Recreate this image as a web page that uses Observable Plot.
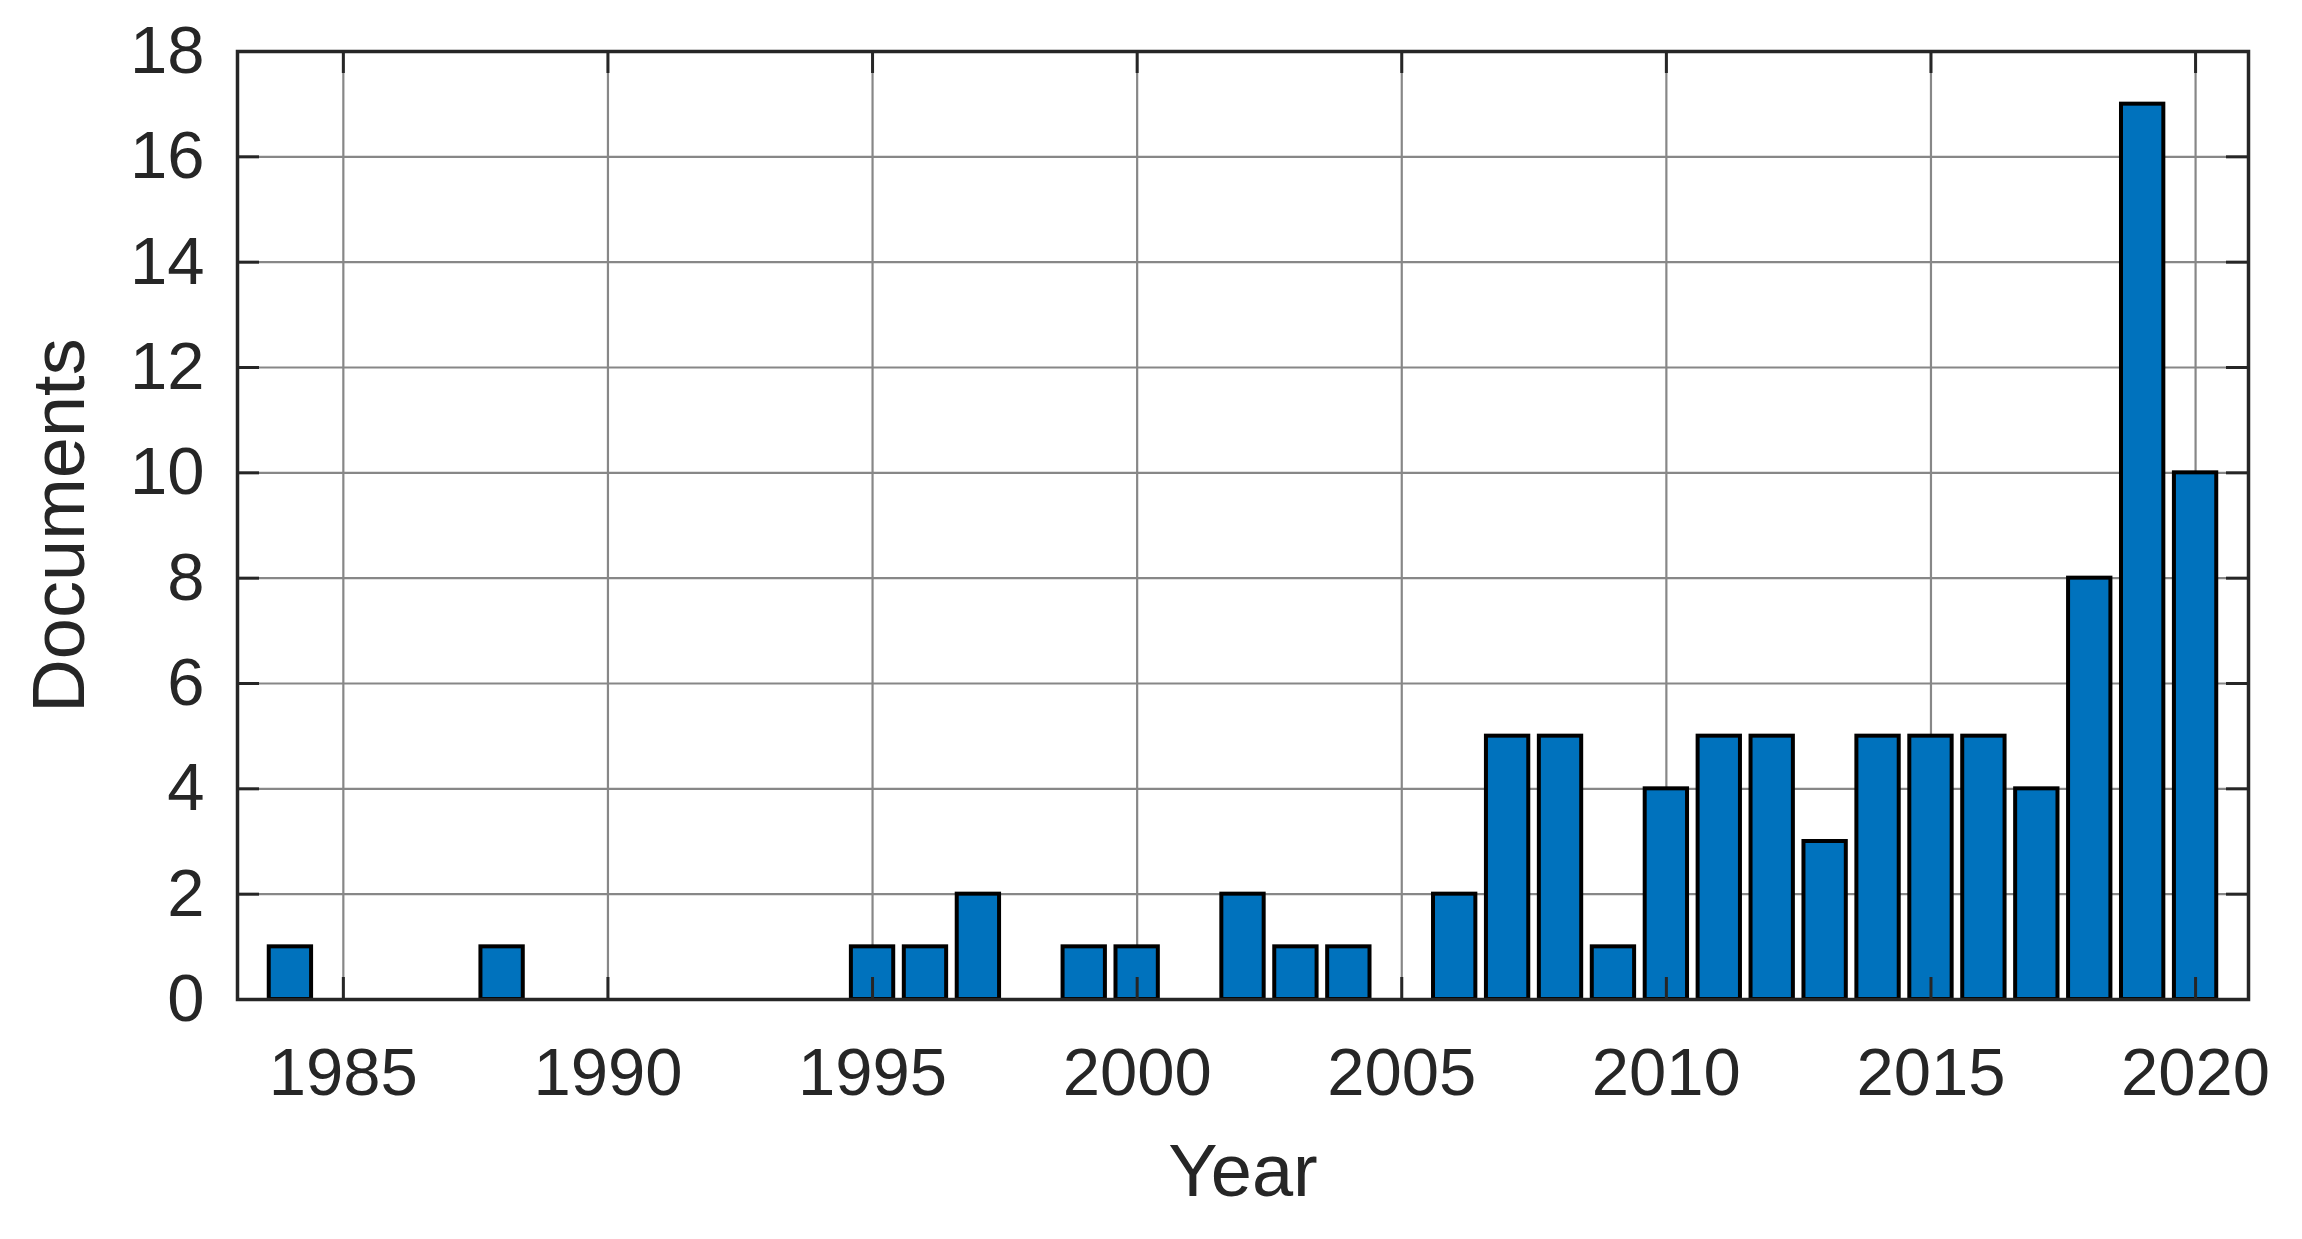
<!DOCTYPE html>
<html>
<head>
<meta charset="utf-8">
<script src="https://cdn.jsdelivr.net/npm/d3@7"></script>
<script src="https://cdn.jsdelivr.net/npm/@observablehq/plot@0.6"></script>
<style>
  html, body { margin: 0; padding: 0; background: #fff; }
  svg { display: block; }
</style>
</head>
<body>
<div id="chart"></div>
<script>
const years  = [1984, 1988, 1995, 1996, 1997, 1999, 2000, 2002, 2003, 2004, 2006, 2007, 2008, 2009, 2010, 2011, 2012, 2013, 2014, 2015, 2016, 2017, 2018, 2019, 2020];
const counts = [1,    1,    1,    1,    2,    1,    1,    2,    1,    1,    2,    5,    5,    1,    4,    5,    5,    3,    5,    5,    5,    4,    8,    17,   10];
const xTicks = [1985, 1990, 1995, 2000, 2005, 2010, 2015, 2020];
const yTicks = [0, 2, 4, 6, 8, 10, 12, 14, 16, 18];
const xLabel = "Year";
const yLabel = "Documents";

const data = years.map((year, i) => ({year, count: counts[i]}));

const W = 2302, H = 1239;
const mL = 237, mR = 54, mT = 51, mB = 240;
const frameW = W - mL - mR, frameH = H - mT - mB;
const ink = "#262626";
const tickLen = 22;

const chart = Plot.plot({
  width: W,
  height: H,
  marginLeft: mL,
  marginRight: mR,
  marginTop: mT,
  marginBottom: mB,
  style: {fontFamily: "'Liberation Sans', Arial, Helvetica, sans-serif", color: ink, background: "#fff"},
  x: {domain: [1983, 2021]},
  y: {domain: [0, 18]},
  marks: [
    Plot.gridX(xTicks, {stroke: "#878787", strokeOpacity: 1, strokeWidth: 2.2}),
    Plot.gridY(yTicks, {stroke: "#878787", strokeOpacity: 1, strokeWidth: 2.2}),
    Plot.rectY(data, {
      x1: d => d.year - 0.4,
      x2: d => d.year + 0.4,
      y: "count",
      fill: "#0072BD",
      stroke: "#000",
      strokeWidth: 4
    }),
    // inward tick marks
    Plot.ruleX(xTicks, {stroke: ink, strokeWidth: 3, insetTop: frameH - tickLen}),
    Plot.ruleX(xTicks, {stroke: ink, strokeWidth: 3, insetBottom: frameH - tickLen}),
    Plot.ruleY(yTicks, {stroke: ink, strokeWidth: 3, insetRight: frameW - tickLen}),
    Plot.ruleY(yTicks, {stroke: ink, strokeWidth: 3, insetLeft: frameW - tickLen}),
    Plot.frame({stroke: ink, strokeWidth: 3.5}),
    Plot.axisX(xTicks, {tickSize: 0, tickPadding: 48, fontSize: 67, fill: ink, tickFormat: d => String(d), label: null}),
    Plot.axisY(yTicks, {tickSize: 0, tickPadding: 33, fontSize: 67, fill: ink, tickFormat: d => String(d), label: null}),
    Plot.text([xLabel], {frameAnchor: "bottom", lineAnchor: "middle", dy: 173, fontSize: 74, fill: ink, text: d => d}),
    Plot.text([yLabel], {frameAnchor: "left", textAnchor: "middle", lineAnchor: "middle", dx: -177, rotate: -90, fontSize: 74, fill: ink, text: d => d})
  ]
});
document.getElementById("chart").appendChild(chart);
</script>
</body>
</html>
